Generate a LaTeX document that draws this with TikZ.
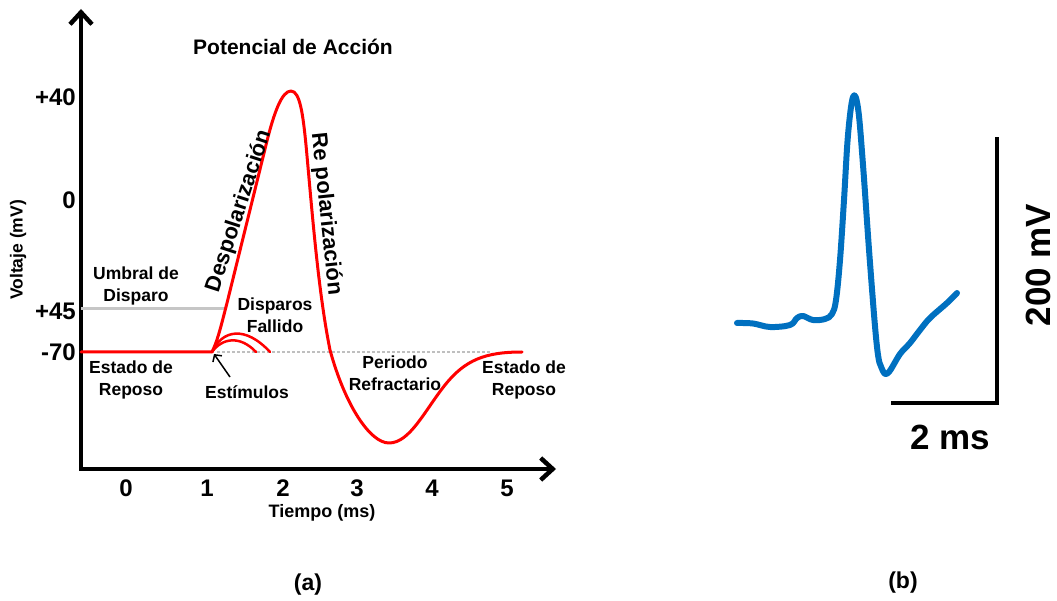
\documentclass[tikz,border=0pt]{standalone}
\usepackage{fontspec}
\setmainfont{Liberation Sans}
\usepackage[x11names]{xcolor}
\usetikzlibrary{arrows.meta}
\tikzset{>=Straight Barb[]}
\definecolor{trace}{RGB}{0,112,192}
\tikzset{
  lbl/.style={font=\bfseries\fontsize{17.5}{22}\selectfont,align=center,inner sep=0pt},
  ticklbl/.style={font=\bfseries\fontsize{24}{24}\selectfont,inner sep=0pt},
  sidelbl/.style={font=\bfseries\fontsize{22}{22}\selectfont,inner sep=0pt},
  biglbl/.style={font=\bfseries\fontsize{35}{35}\selectfont,inner sep=0pt},
  axis/.style={line width=4.5pt,line join=miter},
  spike/.style={red,line width=3pt,line join=round,line cap=round}
}

\begin{document}
\begin{tikzpicture}[x=1pt,y=-1pt]
			\useasboundingbox (0,0) rectangle (1057,601);
			% axes of (a)
			\coordinate (ytop) at (81,9);
			\coordinate (xend) at (556,469);
			\draw[axis,{Straight Barb[length=12pt,width=22pt]}-{Straight Barb[length=12pt,width=22pt]}] (ytop) |- (xend);
			\node[ticklbl,anchor=east] (v40) at (76,97) {+40};
			\node[ticklbl,anchor=east] (v0) at (76,200) {0};
			\node[ticklbl,anchor=east] (v45) at (76,311) {+45};
			\node[ticklbl,anchor=east] (v70) at (76,352) {-70};
			\foreach \t/\x in {0/126,1/207,2/283,3/357,4/432,5/507}{
				\node[ticklbl] (t\t) at (\x,488) {\t};
			}
			\node[lbl,font=\bfseries\fontsize{18}{22}\selectfont] (tiempo) at (322,513) {Tiempo (ms)};
			\node[lbl,rotate=90] (volt) at (18,250) {Voltaje (mV)};
			\node[lbl,font=\bfseries\fontsize{21}{22}\selectfont] (titulo) at (293,47) {Potencial de Acción};
			% threshold and rest level
			\coordinate (stim) at (212,352);
			\draw[gray!45,line width=3pt] (81,309) -- (226,309);
			\draw[gray!50,line width=2.5pt,dash pattern=on 2.5pt off 2.5pt] (217,352) -- (492,352);
			% failed spikes
			\draw[spike,line width=2.5pt] (stim) .. controls (222,330) and (245,325) .. (270,352);
			\draw[spike,line width=2.5pt] (stim) .. controls (222,338) and (240,335) .. (256,352);
			% action potential
			\draw[spike] (81,352) -- (stim) .. controls (218,340) and (222,322) .. (227,303)
				-- (266,145) .. controls (274,112) and (282,91) .. (291,91)
				.. controls (300,91) and (303,115) .. (306,145)
				.. controls (312,210) and (318,290) .. (330,350)
				.. controls (345,405) and (370,443) .. (389,443)
				.. controls (410,443) and (425,410) .. (445,385)
				.. controls (465,360) and (485,352) .. (522,352);
			\node[sidelbl,rotate=72] (despol) at (239,211) {Despolarización};
			\node[sidelbl,rotate=-84] (repol) at (326,214) {Re polarización};
			\node[lbl] (umbral) at (136,286) {Umbral de\\Disparo};
			\node[lbl] (reposoA) at (131,380) {Estado de\\Reposo};
			\node[lbl] (reposoB) at (524,380) {Estado de\\Reposo};
			\node[lbl] (fallido) at (275,315) {Disparos\\Fallido};
			\node[lbl] (refract) at (395,373) {Periodo\\Refractario};
			\node[lbl] (estim) at (247,392) {Estímulos};
			\coordinate (estimtail) at (230,377);
			\draw[line width=1.5pt,-{Straight Barb[length=5pt,width=11pt]}] (estimtail) -- ([shift={(2,2)}]stim);
			\node[lbl,font=\bfseries\fontsize{23}{23}\selectfont] (capa) at (308,585) {(a)};
			% recorded trace (b)
			\draw[trace,line width=6pt,line cap=round,line join=round] plot[smooth,tension=.6] coordinates {
				(737,323) (753,323.5) (770,327) (790,325) (797,318) (803,316) (813,320)
				(825,319) (832,314) (836,300) (840,260) (844,200) (848,135) (853,97)
				(858,108) (863,165) (870,263) (877,347) (882,369) (888,373)
				(900,354) (910,343) (920,330) (930,318) (947,303) (957,293)};
			\coordinate (sbL) at (891,403);
			\coordinate (sbT) at (997,137);
			\draw[axis] (sbL) -| (sbT);
			\node[biglbl] (ms) at (950,437) {2 ms};
			\node[biglbl,rotate=90] (mv) at (1038,265) {200 mV};
			\node[lbl,font=\bfseries\fontsize{23}{23}\selectfont] (capb) at (903,583) {(b)};
		\end{tikzpicture}
\end{document}
